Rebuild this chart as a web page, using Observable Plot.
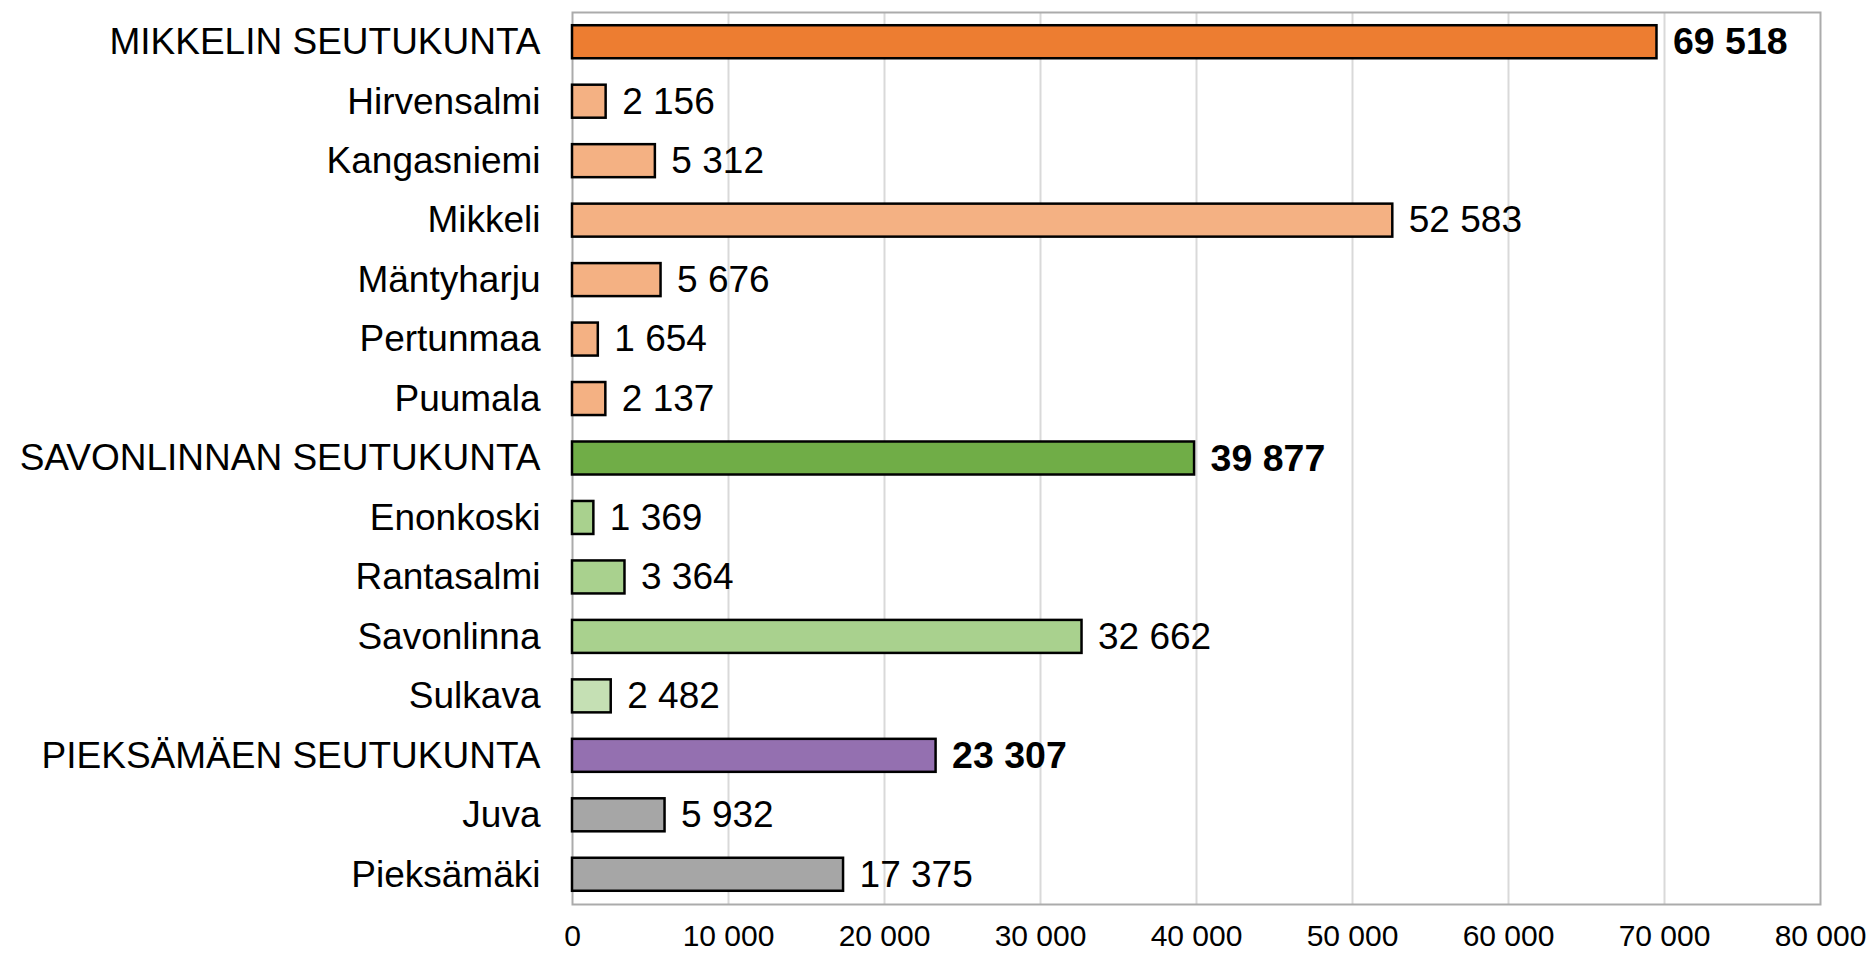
<!DOCTYPE html>
<html>
<head>
<meta charset="utf-8">
<script src="https://cdn.jsdelivr.net/npm/d3@7"></script>
<script src="https://cdn.jsdelivr.net/npm/@observablehq/plot@0.6"></script>
<style>
  html, body { margin: 0; padding: 0; background: #fff; }
  #chart svg { display: block; }
</style>
</head>
<body>
<div id="chart"></div>
<script>
// Data
const categories = [
  "MIKKELIN SEUTUKUNTA", "Hirvensalmi", "Kangasniemi", "Mikkeli", "Mäntyharju", "Pertunmaa", "Puumala",
  "SAVONLINNAN SEUTUKUNTA", "Enonkoski", "Rantasalmi", "Savonlinna", "Sulkava",
  "PIEKSÄMÄEN SEUTUKUNTA", "Juva", "Pieksämäki"
];
const values = [
  69518, 2156, 5312, 52583, 5676, 1654, 2137,
  39877, 1369, 3364, 32662, 2482,
  23307, 5932, 17375
];
const isRegion = [
  true, false, false, false, false, false, false,
  true, false, false, false, false,
  true, false, false
];
const region = [
  "Mikkeli", "Mikkeli", "Mikkeli", "Mikkeli", "Mikkeli", "Mikkeli", "Mikkeli",
  "Savonlinna", "Savonlinna", "Savonlinna", "Savonlinna", "Savonlinna",
  "Pieksämäki", "Pieksämäki", "Pieksämäki"
];
const xTicks = [0, 10000, 20000, 30000, 40000, 50000, 60000, 70000, 80000];

// Styles (kept separate from data)
const palette = {
  "Mikkeli|total": "#ED7D31",
  "Mikkeli|part": "#F4B183",
  "Savonlinna|total": "#70AD47",
  "Savonlinna|part": "#A9D18E",
  "Pieksämäki|total": "#9470B0",
  "Pieksämäki|part": "#A6A6A6"
};
const overrides = { "Sulkava": "#C5E0B4" };

const table = categories.map((name, i) => ({
  name,
  value: values[i],
  total: isRegion[i],
  color: overrides[name] ?? palette[region[i] + "|" + (isRegion[i] ? "total" : "part")]
}));

const fmt = v => d3.format(",")(v).replace(/,/g, " ");
const FONT = "'Liberation Sans', Arial, sans-serif";

const chart = Plot.plot({
  width: 1873,
  height: 957,
  marginLeft: 572,
  marginRight: 53,
  marginTop: 12,
  marginBottom: 53,
  style: { fontFamily: FONT, fontSize: "37px", color: "#000", background: "#fff" },
  x: { domain: [0, 80000], ticks: xTicks, tickFormat: fmt, label: null },
  y: { domain: categories, paddingInner: 0.445, paddingOuter: 0.2225, round: false, label: null },
  color: { type: "identity" },
  marks: [
    Plot.gridX(xTicks.slice(1, -1), { stroke: "#D9D9D9", strokeOpacity: 1, strokeWidth: 2 }),
    Plot.frame({ stroke: "#ABABAB", strokeWidth: 2 }),
    Plot.axisX({ ticks: xTicks, tickFormat: fmt, tickSize: 0, tickPadding: 20, fontSize: 30, label: null }),
    Plot.axisY({ tickSize: 0, tickPadding: 32, fontSize: 37, label: null }),
    Plot.barX(table, { y: "name", x: "value", fill: "color", stroke: "#000", strokeWidth: 2.5 }),
    Plot.text(table.filter(d => !d.total), {
      y: "name", x: "value", text: d => fmt(d.value), textAnchor: "start", dx: 16,
      fontSize: 37, fill: "#000"
    }),
    Plot.text(table.filter(d => d.total), {
      y: "name", x: "value", text: d => fmt(d.value), textAnchor: "start", dx: 16,
      fontSize: 37.5, fontWeight: "bold", fill: "#000"
    })
  ]
});
document.getElementById("chart").appendChild(chart);
</script>
</body>
</html>
